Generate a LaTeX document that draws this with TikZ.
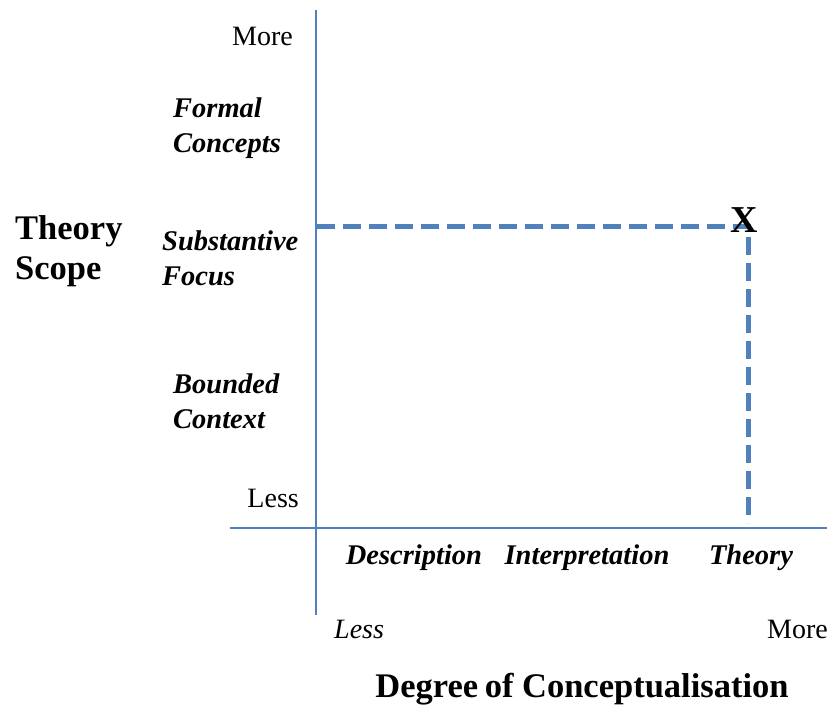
\documentclass[tikz,border=0pt]{standalone}
\usepackage{fontspec}
\setmainfont{Liberation Serif}
\definecolor{axisblue}{HTML}{4F81BD}
\begin{document}
\begin{tikzpicture}[x=1pt,y=-1pt,
  axisline/.style={draw=axisblue,line width=1.6pt},
  guide/.style={draw=axisblue,line width=5pt,dash pattern=on 18pt off 8pt},
  tick/.style={font=\fontsize{28}{32}\selectfont,inner sep=0pt},
  level/.style={font=\fontsize{28.5}{35}\selectfont\bfseries\itshape,inner sep=0pt,align=left},
  title/.style={font=\fontsize{34.5}{40}\selectfont\bfseries,inner sep=0pt,align=left}]
\useasboundingbox (0,0) rectangle (827,707);
% axes
\coordinate (ytop) at (316,10);
\coordinate (ybot) at (316,615);
\coordinate (xl) at (230,528);
\coordinate (xr) at (827,528);
\draw[axisline] (ytop) -- (ybot);
\draw[axisline] (xl) -- (xr);
% marked point and its guide lines
\coordinate (ycut) at (317,226);
\coordinate (corner) at (748,226);
\coordinate (xcut) at (748,523);
\draw[guide] (ycut) -- (corner) -- (xcut);
\node[font=\fontsize{38}{38}\selectfont\bfseries,inner sep=0pt] (mark) at (744,220) {X};
% vertical axis labels
\node[tick,anchor=east] (ymore) at (293,36) {More};
\node[level,anchor=west] (formal) at (173,128) {Formal\\Concepts};
\node[level,anchor=west] (subst) at (162,258) {Substantive\\Focus};
\node[level,anchor=west] (bounded) at (173,401) {Bounded\\Context};
\node[tick,anchor=east] (yless) at (299,498) {Less};
\node[title,anchor=west] (yname) at (15,251) {Theory\\Scope};
% horizontal axis labels
\node[level] (desc) at (414,558) {Description};
\node[level] (interp) at (587,558) {Interpretation};
\node[level] (theory) at (751,558) {Theory};
\node[tick,font=\fontsize{28}{32}\selectfont\itshape,anchor=west] (xless) at (334,629) {Less};
\node[tick,anchor=east] (xmore) at (828,629) {More};
\node[title] (xname) at (582,689) {Degree\kern-2pt\ of Conceptualisation};
\end{tikzpicture}
\end{document}
